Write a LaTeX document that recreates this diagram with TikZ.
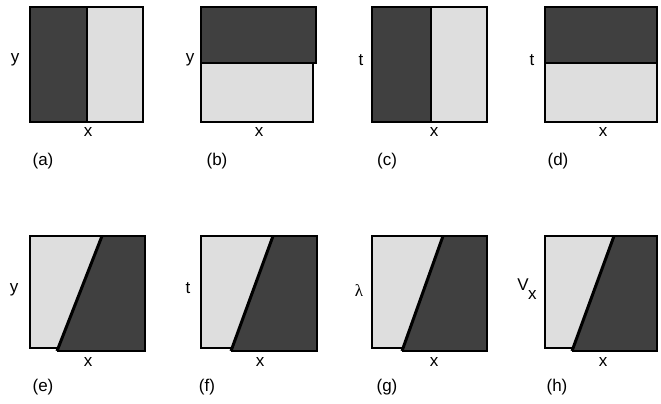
\documentclass[tikz,border=0pt]{standalone}
\usepackage{fontspec}
\setmainfont{Liberation Sans}
\newfontfamily\greekserif{Liberation Serif}
\begin{document}
\begin{tikzpicture}[x=1pt,y=-1pt,
  darkc/.style={fill=black!75, draw=black, line width=2pt},
  lightc/.style={fill=black!13, draw=black, line width=2pt},
  slant/.style={draw=black, line width=3pt},
  lab/.style={font=\fontsize{17}{19}\selectfont, inner sep=0pt},
  caplab/.style={font=\fontsize{17}{19}\selectfont, inner sep=0pt}]
\useasboundingbox (0,0) rectangle (661,404);
% (a)
\draw[lightc] (87,7) rectangle (143,122);
\draw[darkc] (30,7) rectangle (87,122);
\node[lab] (ay) at (15,60) {y};
\node[lab] (ax) at (88,132) {x};
\node[caplab] (ac) at (43,161) {(a)};
% (b)
\draw[lightc] (201,63) rectangle (313,122);
\draw[darkc] (201,7) rectangle (316,63);
\node[lab] (by) at (190,60) {y};
\node[lab] (bx) at (259,132) {x};
\node[caplab] (bc) at (217,161) {(b)};
% (c)
\draw[lightc] (431,7) rectangle (487,122);
\draw[darkc] (372,7) rectangle (431,122);
\node[lab] (cy) at (361,60) {t};
\node[lab] (cx) at (434,132) {x};
\node[caplab] (cc) at (387,161) {(c)};
% (d)
\draw[lightc] (545,63) rectangle (657,122);
\draw[darkc] (545,7) rectangle (657,63);
\node[lab] (dy) at (532,60) {t};
\node[lab] (dx) at (603,132) {x};
\node[caplab] (dc) at (558,161) {(d)};
% (e)
\draw[lightc] (30,236) rectangle (102,348);
\fill[black!75] (102,236) -- (145,236) -- (145,351) -- (57,351) -- cycle;
\draw[line width=2pt] (102,236) -- (145,236) -- (145,351) -- (57,351);
\draw[slant] (102,236) -- (57,351);
\node[lab] (ey) at (14,290) {y};
\node[lab] (ex) at (88,362) {x};
\node[caplab] (ec) at (43,387) {(e)};
% (f)
\draw[lightc] (201,236) rectangle (273,348);
\fill[black!75] (273,236) -- (317,236) -- (317,351) -- (231,351) -- cycle;
\draw[line width=2pt] (273,236) -- (317,236) -- (317,351) -- (231,351);
\draw[slant] (273,236) -- (231,351);
\node[lab] (fy) at (188,288) {t};
\node[lab] (fx) at (260,362) {x};
\node[caplab] (fc) at (207,387) {(f)};
% (g)
\draw[lightc] (372,236) rectangle (443,348);
\fill[black!75] (443,236) -- (487,236) -- (487,351) -- (402,351) -- cycle;
\draw[line width=2pt] (443,236) -- (487,236) -- (487,351) -- (402,351);
\draw[slant] (443,236) -- (402,351);
\node[lab] (gy) at (359,291) {\greekserif λ};
\node[lab] (gx) at (434,362) {x};
\node[caplab] (gc) at (387,387) {(g)};
% (h)
\draw[lightc] (545,236) rectangle (614,348);
\fill[black!75] (614,236) -- (657,236) -- (657,351) -- (572,351) -- cycle;
\draw[line width=2pt] (614,236) -- (657,236) -- (657,351) -- (572,351);
\draw[slant] (614,236) -- (572,351);
\node[lab] (hy) at (527,289) {V\kern-0.5pt\raisebox{-9pt}{x}};
\node[lab] (hx) at (603,362) {x};
\node[caplab] (hc) at (557,387) {(h)};
\end{tikzpicture}
\end{document}
